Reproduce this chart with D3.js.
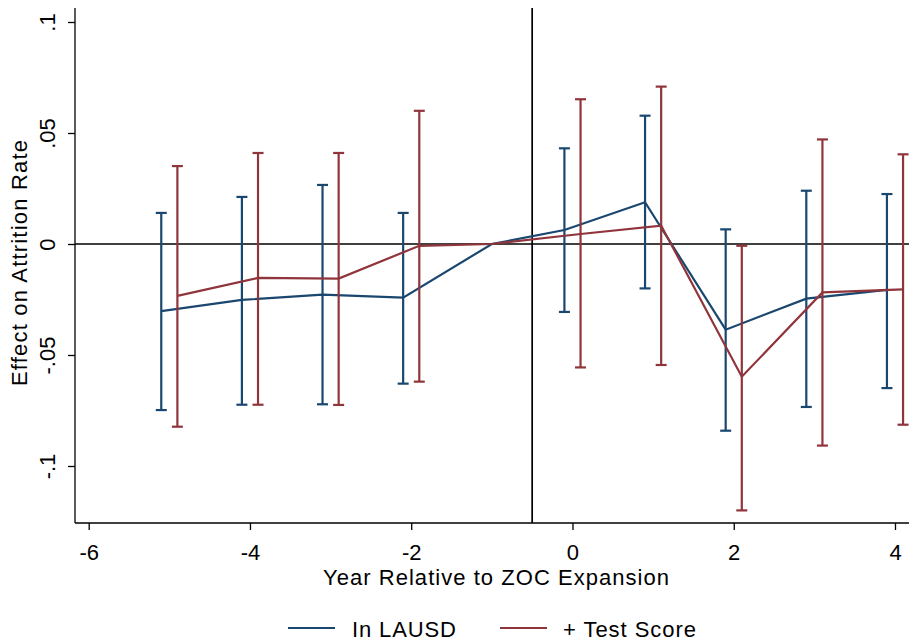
<!DOCTYPE html>
<html><head><meta charset="utf-8">
<script src="https://cdn.jsdelivr.net/npm/d3@7"></script>
<style>body{margin:0;background:#fff}svg{display:block}text{font-family:"Liberation Sans",Arial,Helvetica,sans-serif;fill:#000}</style>
</head><body><svg id="c" width="909" height="644"></svg>
<script>
const years = [-5, -4, -3, -2, -1, 0, 1, 2, 3, 4];
const lausdEst = [-0.0302, -0.0252, -0.0228, -0.0242, 0, 0.0063, 0.0188, -0.0386, -0.0246, -0.0207];
const lausdLo  = [-0.0748, -0.0724, -0.0722, -0.0629, null, -0.0306, -0.0200, -0.0841, -0.0734, -0.0649];
const lausdHi  = [0.0140, 0.0212, 0.0266, 0.0140, null, 0.0431, 0.0578, 0.0066, 0.0240, 0.0225];
const testEst = [-0.0234, -0.0153, -0.0156, -0.0008, 0, 0.0045, 0.0083, -0.0598, -0.0218, -0.0204];
const testLo  = [-0.0823, -0.0724, -0.0725, -0.0620, null, -0.0556, -0.0545, -0.1200, -0.0908, -0.0814];
const testHi  = [0.0351, 0.0410, 0.0410, 0.0600, null, 0.0652, 0.0709, -0.0008, 0.0471, 0.0404];
const xTicks = [-6, -4, -2, 0, 2, 4];
const xTickLabels = ["-6", "-4", "-2", "0", "2", "4"];
const yTicks = [-0.1, -0.05, 0, 0.05, 0.1];
const yTickLabels = ["-.1", "-.05", "0", ".05", ".1"];
const seriesNames = ["In LAUSD", "+ Test Score"];
const seriesColors = ["#1a476f", "#90353b"];

const svg = d3.select("#c");
const L = 75, R = 909, T = 8, B = 523;
const FONT = '"Liberation Sans",Arial,Helvetica,sans-serif';
const x = d3.scaleLinear().domain([-6, 4]).range([88.7, 895]);
const y = d3.scaleLinear().domain([0, 0.1]).range([244, 22]);

// axes
const xAxis = d3.axisBottom(x).tickValues(xTicks).tickSize(7).tickFormat((d, i) => xTickLabels[i]);
const gx = svg.append("g").attr("transform", `translate(0,${B})`).call(xAxis);
gx.select(".domain").attr("d", `M${L},0H${R}`).attr("stroke", "#000").attr("stroke-width", 1.3);
gx.selectAll(".tick line").attr("stroke", "#000").attr("stroke-width", 1.3);
gx.selectAll(".tick text").attr("font-size", 22).attr("font-family", FONT).attr("fill", "#000")
  .attr("y", 37).attr("dy", null);

const yAxis = d3.axisLeft(y).tickValues(yTicks).tickSize(7).tickFormat((d, i) => yTickLabels[i]);
const gy = svg.append("g").attr("transform", `translate(${L},0)`).call(yAxis);
gy.select(".domain").attr("d", `M0,${T}V${B}`).attr("stroke", "#000").attr("stroke-width", 1.3);
gy.selectAll(".tick line").attr("stroke", "#000").attr("stroke-width", 1.3);
gy.selectAll(".tick text").attr("font-size", 22).attr("font-family", FONT).attr("fill", "#000")
  .attr("x", null).attr("dy", null)
  .attr("transform", "translate(-20,0) rotate(-90)").attr("text-anchor", "middle");

// reference lines
svg.append("line").attr("x1", L).attr("x2", R).attr("y1", y(0)).attr("y2", y(0)).attr("stroke", "#000").attr("stroke-width", 1.7);
svg.append("line").attr("x1", x(-0.5)).attr("x2", x(-0.5)).attr("y1", T).attr("y2", B).attr("stroke", "#000").attr("stroke-width", 1.7);

const series = [
  {est: lausdEst, lo: lausdLo, hi: lausdHi, off: -0.1},
  {est: testEst, lo: testLo, hi: testHi, off: 0.1}
];
series.forEach((s, k) => {
  const pts = years.map((yr, i) => ({xv: yr === -1 ? yr : yr + s.off, e: s.est[i], lo: s.lo[i], hi: s.hi[i]}));
  const col = seriesColors[k];
  const g = svg.append("g");
  pts.filter(p => p.lo !== null).forEach(p => {
    const cx = x(p.xv);
    g.append("line").attr("x1", cx).attr("x2", cx).attr("y1", y(p.lo)).attr("y2", y(p.hi)).attr("stroke", col).attr("stroke-width", 2.2);
    [p.lo, p.hi].forEach(v => g.append("line").attr("x1", cx - 5.5).attr("x2", cx + 5.5).attr("y1", y(v)).attr("y2", y(v)).attr("stroke", col).attr("stroke-width", 2.2));
  });
  svg.append("path").datum(pts).attr("fill", "none").attr("stroke", col).attr("stroke-width", 2.2)
    .attr("stroke-linejoin", "miter")
    .attr("d", d3.line().x(p => x(p.xv)).y(p => y(p.e)));
});

// axis titles
svg.append("text").attr("x", 496).attr("y", 585).attr("text-anchor", "middle").attr("font-size", 22)
  .attr("textLength", 346).attr("lengthAdjust", "spacing").text("Year Relative to ZOC Expansion");
svg.append("text").attr("transform", `translate(27,263) rotate(-90)`).attr("text-anchor", "middle").attr("font-size", 22)
  .attr("textLength", 246).attr("lengthAdjust", "spacing").text("Effect on Attrition Rate");

// legend
const leg = [{x1: 288, tx: 352, w: 104}, {x1: 500, tx: 563, w: 133}];
leg.forEach((l, k) => {
  svg.append("line").attr("x1", l.x1).attr("x2", l.x1 + 47).attr("y1", 628).attr("y2", 628).attr("stroke", seriesColors[k]).attr("stroke-width", 2);
  svg.append("text").attr("x", l.tx).attr("y", 637).attr("font-size", 22)
    .attr("textLength", l.w).attr("lengthAdjust", "spacing").text(seriesNames[k]);
});
</script></body></html>
